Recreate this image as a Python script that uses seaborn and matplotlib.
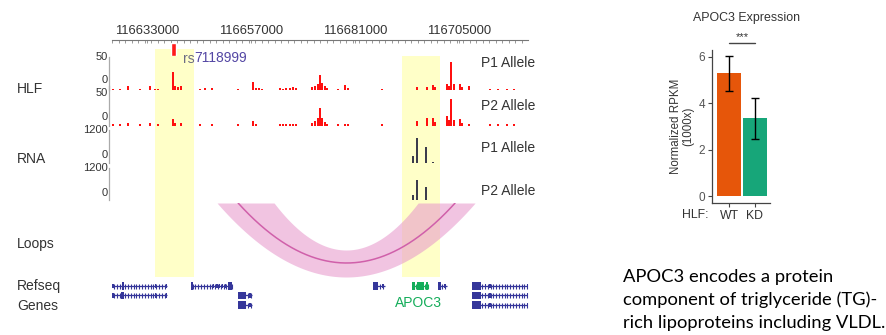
import numpy as np
import pandas as pd
import matplotlib
matplotlib.use("Agg")
import matplotlib.pyplot as plt
import matplotlib.transforms as mtransforms
import seaborn as sns

sns.set_style("white")
plt.rcParams['font.family'] = ['Liberation Sans', 'DejaVu Sans']

# ---------------- data ----------------
region = (116624900, 116720900)
ruler_ticks = [116633000, 116657000, 116681000, 116705000]
ruler_minor_step = 1500

hlf_p1_pos = [116625150, 116626770, 116628620, 116631380, 116633690, 116634850, 116635540,
              116639000, 116639460, 116640150, 116640850, 116645230, 116646390, 116648000,
              116654000, 116657460, 116658150, 116658850, 116659540, 116663690, 116664390,
              116665080, 116666000, 116666690, 116667390, 116671080, 116671770, 116672460,
              116672920, 116673390, 116674080, 116674540, 116677080, 116678690, 116679390,
              116687230, 116695310, 116697620, 116699000, 116699460, 116702230, 116702690,
              116703150, 116703850, 116705230, 116705690, 116707310, 116712150, 116714000,
              116716080, 116717690]
hlf_p1_val = [2, 2, 6, 2, 6, 2, 2,
              27, 6, 4, 6, 2, 3, 3,
              2, 12, 3, 3, 2, 3, 2,
              3, 3, 4, 3, 5, 6, 9,
              23, 10, 6, 3, 2, 7, 3,
              2, 4, 4, 7, 4, 9, 6,
              42, 9, 9, 4, 6, 2, 2,
              2, 2]
hlf_p2_pos = [116625150, 116626770, 116628620, 116631380, 116633690, 116635540,
              116639000, 116639460, 116640850, 116645230, 116648000, 116654000,
              116657460, 116658150, 116663690, 116664390, 116665080, 116666000,
              116666690, 116667390, 116671080, 116671770, 116672460, 116672920,
              116673390, 116674080, 116674540, 116677080, 116678690, 116679390,
              116687230, 116695310, 116697620, 116699000, 116699460, 116702230,
              116702690, 116703150, 116703850, 116705230, 116705690, 116707310,
              116712150, 116714000, 116716080, 116717690]
hlf_p2_val = [2, 2, 4, 2, 4, 2,
              9, 4, 4, 2, 2, 2,
              6, 2, 2, 3, 3, 3,
              3, 3, 4, 6, 10, 23,
              10, 5, 3, 3, 3, 3,
              2, 6, 10, 10, 5, 13,
              8, 34, 8, 9, 4, 3,
              2, 2, 2, 2]
rna_pos = [116694385, 116695308, 116697385, 116699000]
rna_p1_val = [250, 910, 580, 20]
rna_p2_val = [190, 750, 490, 0]

snp_pos = 116639100
snp_name_prefix, snp_name_num = "rs", "7118999"
highlights = [(116634850, 116643850), (116691850, 116700620)]

loop_arcs = {  # (left, right, depth)
    'outer': (116649150, 116708690, 74),
    'center': (116654000, 116704080, 60),
    'inner': (116662310, 116695540, 47),
}

genes = [
    dict(row=0, start=116625000, end=116637615, color='#35369a',
         exons=[(116625000, 116625300, 's'), (116627230, 116627700, 't'),
                (116634850, 116635050, 's'), (116637300, 116637615, 's')]),
    dict(row=1, start=116625000, end=116637615, color='#35369a',
         exons=[(116625000, 116625300, 's'), (116626950, 116627700, 't'),
                (116634850, 116635050, 's'), (116637300, 116637615, 's')]),
    dict(row=0, start=116643150, end=116652615, color='#35369a',
         exons=[(116643150, 116643600, 't'), (116648230, 116648500, 's'),
                (116649000, 116649300, 's'), (116649600, 116649900, 's'),
                (116650300, 116650600, 's'), (116651000, 116651300, 's'),
                (116651700, 116652615, 't')]),
    dict(row=1, start=116654000, end=116657230, color='#35369a',
         exons=[(116654000, 116655900, 't'), (116656600, 116657000, 's')]),
    dict(row=2, start=116654000, end=116657230, color='#35369a',
         exons=[(116654000, 116655900, 't'), (116656600, 116657000, 's')]),
    dict(row=0, start=116685150, end=116687920, color='#35369a',
         exons=[(116685150, 116686300, 't'), (116687300, 116687600, 's')]),
    dict(row=0, start=116694150, end=116697850, color='#14ad5a',
         exons=[(116694150, 116694850, 't'), (116695300, 116696900, 't'),
                (116697400, 116697850, 't')]),
    dict(row=0, start=116700150, end=116702230, color='#35369a',
         exons=[(116700150, 116700850, 't'), (116701540, 116702000, 's')]),
]
for r in (0, 1, 2):
    genes.append(dict(row=r, start=116708000, end=116720900, color='#35369a',
                      exons=[(116708000, 116710080, 't'), (116710900, 116711100, 's'),
                             (116712000, 116712300, 's'), (116720600, 116720900, 's')]))
apoc3_label_pos = (116695654, 1.8)

bar_conditions = ['WT', 'KD']
bar_values = [5.3, 3.35]
bar_errors = [0.75, 0.87]
bar_colors = ['#e6560a', '#17a679']

note_lines = ["APOC3 encodes a protein",
              "component of triglyceride (TG)-",
              "rich lipoproteins including VLDL."]

# ---------------- figure ----------------
W, H = 887, 335
fig = plt.figure(figsize=(W / 100, H / 100), dpi=100)


def px_axes(x0, y0, x1, y1, **kw):
    ax = fig.add_axes([x0 / W, 1 - y1 / H, (x1 - x0) / W, (y1 - y0) / H], **kw)
    ax.set_facecolor('none')
    return ax


def fx(x):
    return x / W


def fy(y):
    return 1 - y / H


TXT = '#333333'
GX0, GX1 = 112, 528

# highlights (drawn first, underneath the tracks)
axh = px_axes(GX0, 49, GX1, 277)
axh.set_xlim(*region)
axh.axis('off')
axh.axvspan(highlights[0][0], highlights[0][1], ymin=0, ymax=1, color='#ffffc8', lw=0)
axh.axvspan(highlights[1][0], highlights[1][1], ymin=0, ymax=(277 - 56) / 228, color='#ffffc8',
            lw=0)

# ruler
axr = px_axes(GX0, 38, GX1, 40)
axr.set_xlim(*region)
axr.set_ylim(0, 1)
for s in ['top', 'left', 'right']:
    axr.spines[s].set_visible(False)
axr.spines['bottom'].set_color('#777777')
axr.spines['bottom'].set_linewidth(0.8)
axr.set_yticks([])
axr.set_xticks(ruler_ticks)
axr.set_xticks(np.arange(region[0] + 100, region[1], ruler_minor_step), minor=True)
axr.tick_params(axis='x', which='both', bottom=True, top=False, labelbottom=False,
                labeltop=False, direction='out', length=2.2, width=0.6, color='#888888')
ruler_tr = mtransforms.blended_transform_factory(axr.transData, fig.transFigure)
for t in ruler_ticks:
    axr.text(t, fy(31.5), str(t), transform=ruler_tr, ha='center', va='center',
             fontsize=9.4, color=TXT)


# track helper
def track(y_top, y_base, pos, val, ymax, color, width, top_label, top_label_y, zero_y):
    ax = px_axes(GX0, y_top, GX1, y_base)
    ax.set_xlim(*region)
    ax.set_ylim(0, ymax)
    ax.bar(pos, val, width=width, color=color, align='center', linewidth=0)
    for s in ['top', 'right', 'bottom']:
        ax.spines[s].set_visible(False)
    ax.spines['left'].set_position(('outward', 2.5))
    ax.spines['left'].set_color('#aaaaaa')
    ax.spines['left'].set_linewidth(0.9)
    ax.set_xticks([])
    ax.set_yticks([])
    fig.text(fx(107.5), fy(top_label_y), top_label, ha='right', va='center', fontsize=8,
             color=TXT)
    fig.text(fx(107.5), fy(zero_y), '0', ha='right', va='center', fontsize=8, color=TXT)
    return ax


track(57, 90, hlf_p1_pos, hlf_p1_val, 50, '#ff1010', 380, '50', 57, 80)
track(86, 126, hlf_p2_pos, hlf_p2_val, 50, '#ff1010', 380, '50', 93, 117)
track(130, 163, rna_pos, rna_p1_val, 1200, '#3c3c4c', 420, '1200', 130, 155)
track(168, 200, rna_pos, rna_p2_val, 1200, '#3c3c4c', 420, '1200', 168, 193)

# track labels
for lab, y in [('P1 Allele', 63), ('P2 Allele', 106), ('P1 Allele', 148), ('P2 Allele', 191)]:
    fig.text(fx(481), fy(y), lab, ha='left', va='center', fontsize=10, color=TXT)
for lab, y in [('HLF', 89), ('RNA', 159), ('Loops', 244), ('Refseq', 286), ('Genes', 306)]:
    fig.text(fx(17), fy(y), lab, ha='left', va='center', fontsize=10, color=TXT)

# loops
axl = px_axes(GX0, 203, GX1, 290)
axl.set_xlim(*region)
axl.set_ylim(87, 0)
axl.axis('off')


def arc(left, right, depth, x):
    mid, half = (left + right) / 2, (right - left) / 2
    return depth * (1 - ((x - mid) / half) ** 2)


ol, orr, od = loop_arcs['outer']
il, ir, idp = loop_arcs['inner']
xs = np.linspace(ol, orr, 600)
y_out = arc(ol, orr, od, xs)
y_in = np.where((xs > il) & (xs < ir), arc(il, ir, idp, xs), 0)
axl.fill_between(xs, y_in, y_out, color='#e694ca', alpha=0.55, linewidth=0)
cl, cr, cd = loop_arcs['center']
xc = np.linspace(cl, cr, 400)
axl.plot(xc, arc(cl, cr, cd, xc), color='#d060aa', lw=1.1)

# genes
axg = px_axes(GX0, 278, GX1, 312)
axg.set_xlim(*region)
axg.set_ylim(2.737, -0.842)
axg.axis('off')
for g in genes:
    r = g['row']
    axg.plot([g['start'], g['end']], [r, r], color=g['color'], lw=0.9, solid_capstyle='butt')
    chev = np.arange(g['start'] + 350, g['end'], 650)
    axg.plot(chev, [r] * len(chev), ls='none', marker='|', ms=3.6, mew=0.8, color=g['color'])
    for s, e, k in g['exons']:
        h = 0.75 if k == 't' else 0.5
        axg.add_patch(plt.Rectangle((s, r - h / 2), e - s, h, color=g['color'], lw=0))
axg.text(apoc3_label_pos[0], apoc3_label_pos[1], 'APOC3', color='#14ad5a', fontsize=10,
         ha='center', va='center')

# SNP marker
axs = px_axes(GX0, 43, GX1, 56)
axs.set_xlim(*region)
axs.set_ylim(0, 1)
axs.axis('off')
axs.bar([snp_pos], [1], width=1150, bottom=0, color='#ff1a1a', align='center')
t1 = axs.text(116641300, -0.2, snp_name_prefix, color='#6c6c84', fontsize=10,
              va='center', ha='left', clip_on=False)
fig.canvas.draw()
bb = t1.get_window_extent()
fig.text(bb.x1 / W, fy(58.5), snp_name_num, color='#5447a4', fontsize=10,
         va='center', ha='left')

# ---------------- bar chart ----------------
axb = px_axes(712, 50, 770, 203)
df = pd.DataFrame({'cond': bar_conditions, 'val': bar_values, 'err': bar_errors})
sns.barplot(data=df, x='cond', y='val', hue='cond', palette=bar_colors, width=0.92,
            errorbar=None, legend=False, ax=axb, linewidth=0, saturation=1)
axb.errorbar(x=np.arange(len(df)), y=df['val'], yerr=df['err'], fmt='none', ecolor='black',
             elinewidth=1.0, capsize=3, capthick=1.0)
axb.set_xlim(-0.654, 1.577)
axb.set_ylim(-0.3, 6.3)
axb.set_yticks([0, 2, 4, 6])
axb.set_xlabel('')
axb.set_ylabel('')
sns.despine(ax=axb)
for s in ['left', 'bottom']:
    axb.spines[s].set_color('#444444')
    axb.spines[s].set_linewidth(0.9)
axb.tick_params(axis='y', left=True, length=3, width=0.8, color='#444444', labelsize=8.5,
                labelcolor='#555555', pad=2)
axb.tick_params(axis='x', bottom=True, length=3, width=0.8, color='#444444', labelsize=8.8,
                labelcolor=TXT, pad=2)
axb.plot([0, 1], [6.59, 6.59], color='#444444', lw=1.0, clip_on=False)
axb.text(0.5, 6.66, '***', ha='center', va='bottom', fontsize=8, color=TXT, clip_on=False)
fig.text(fx(747), fy(17.5), 'APOC3 Expression', ha='center', va='center', fontsize=8.9, color=TXT)
fig.text(fx(695), fy(215), 'HLF:', ha='center', va='center', fontsize=8.8, color=TXT)
fig.text(fx(682), fy(126), 'Normalized RPKM\n(1000x)', ha='center', va='center', rotation=90,
         fontsize=8.3, color=TXT, linespacing=1.1)

# note text
for i, line in enumerate(note_lines):
    fig.text(fx(623), fy(277 + i * 23), line, ha='left', va='center', fontsize=13.2,
             color='black', family=['Lato', 'DejaVu Sans'])

fig.savefig('out.png', dpi=100)
